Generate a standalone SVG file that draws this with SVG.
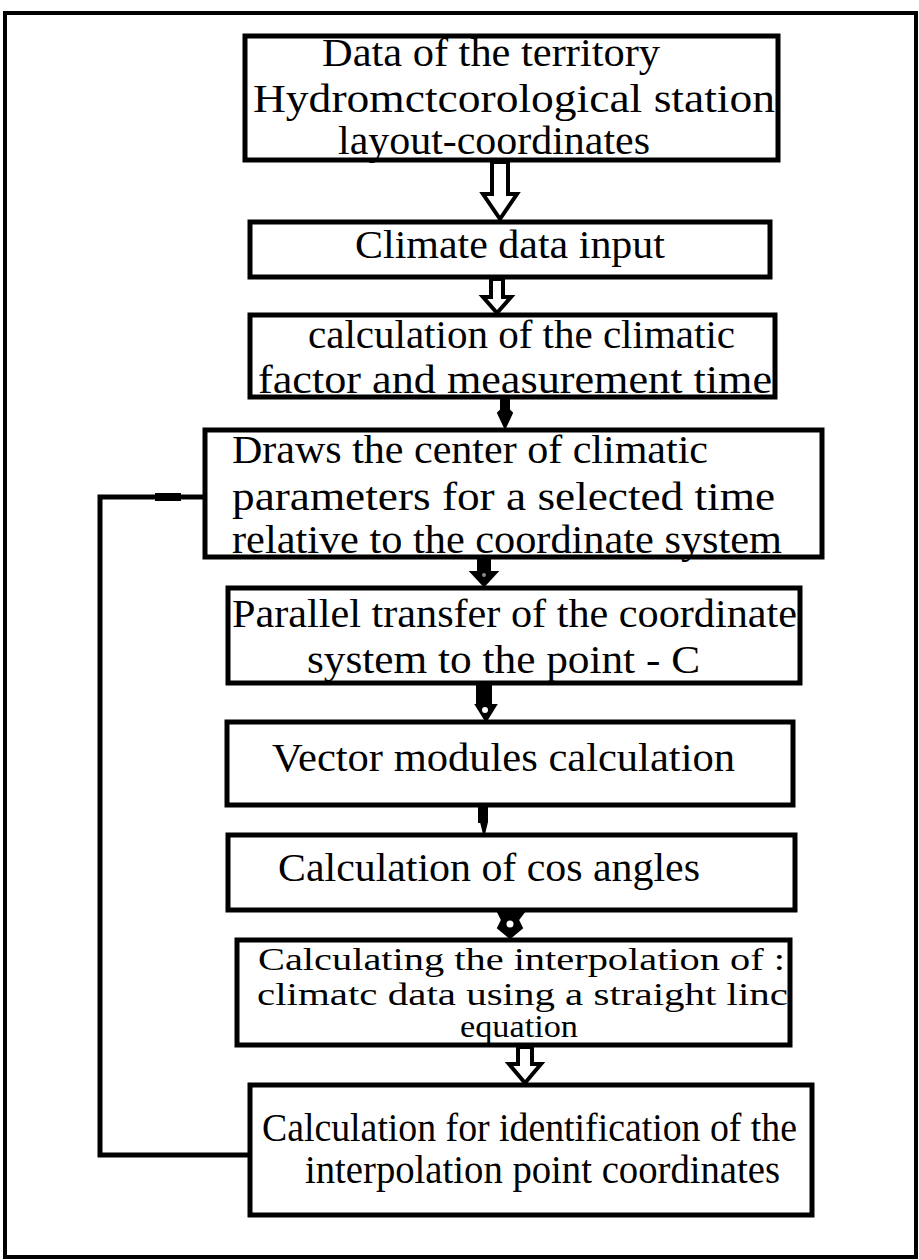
<svg xmlns="http://www.w3.org/2000/svg" width="919" height="1260" viewBox="0 0 919 1260">
<style>
.box{fill:#fff;stroke:#000;stroke-width:5}
.t{font-family:"Liberation Serif","Times New Roman",serif;font-size:40px;fill:#000}
.s{font-size:31px}
.ln{fill:none;stroke:#000;stroke-width:5}
.ah{fill:#fff;stroke:#000;stroke-width:4;stroke-linejoin:miter}
.as{fill:#000;stroke:#000;stroke-width:2}
</style>
<rect x="0" y="0" width="919" height="1260" fill="#fff"/>
<rect x="5" y="13" width="911" height="1244" fill="none" stroke="#000" stroke-width="4"/>
<g id="connectors">
<polyline class="ln" points="205,497 100,497 100,1155 250,1155"/>
<rect x="155" y="493" width="26" height="8" fill="#000"/>
<path class="ah" d="M492,162 L508,162 L508,194 L517,194 L500,219 L483,194 L492,194 Z"/>
<path class="ah" d="M491,279 L503,279 L503,297 L511,297 L497,313 L483,297 L491,297 Z"/>
<path class="as" d="M501,399 L509,399 L509,410 L512,413 L505,428 L498,413 L501,410 Z"/>
<path class="as" d="M478,559 L490,559 L490,572 L497,572 L484,586 L471,572 L478,572 Z"/>
<circle cx="484" cy="575" r="2" fill="#888"/>
<path class="as" d="M477,685 L491,685 L491,705 L496,705 L486,721 L476,705 L477,705 Z"/>
<circle cx="485" cy="710" r="3" fill="#fff"/>
<path class="as" d="M479,807 L487,807 L487,822 L484,834 L481,822 L479,822 Z"/>
<path class="as" d="M498,912 L524,912 L518,920 L522,928 L510,938 L498,928 L502,920 Z"/>
<circle cx="510" cy="924" r="3.5" fill="#fff"/>
<path class="ah" d="M518,1047 L532,1047 L532,1064 L541,1064 L525,1083 L509,1064 L518,1064 Z"/>
</g>
<g id="n1">
<rect class="box" x="245" y="36" width="533" height="124"/>
<text class="t" x="322" y="66" textLength="338" lengthAdjust="spacingAndGlyphs">Data of the territory</text>
<text class="t" x="253" y="112" textLength="522" lengthAdjust="spacingAndGlyphs">Hydromctcorological station</text>
<text class="t" x="338" y="154" textLength="312" lengthAdjust="spacingAndGlyphs">layout-coordinates</text>
</g>
<g id="n2">
<rect class="box" x="250" y="222" width="520" height="55"/>
<text class="t" x="355" y="258" textLength="310" lengthAdjust="spacingAndGlyphs">Climate data input</text>
</g>
<g id="n3">
<rect class="box" x="250" y="315" width="525" height="82"/>
<text class="t" x="308" y="348" textLength="427" lengthAdjust="spacingAndGlyphs">calculation of the climatic</text>
<text class="t" x="258" y="393" textLength="514" lengthAdjust="spacingAndGlyphs">factor and measurement time</text>
</g>
<g id="n4">
<rect class="box" x="205" y="430" width="617" height="127"/>
<text class="t" x="232" y="463" textLength="476" lengthAdjust="spacingAndGlyphs">Draws the center of climatic</text>
<text class="t" x="232" y="510" textLength="543" lengthAdjust="spacingAndGlyphs">parameters for a selected time</text>
<text class="t" x="232" y="553" textLength="550" lengthAdjust="spacingAndGlyphs">relative to the coordinate system</text>
</g>
<g id="n5">
<rect class="box" x="228" y="588" width="572" height="95"/>
<text class="t" x="232" y="627" textLength="565" lengthAdjust="spacingAndGlyphs">Parallel transfer of the coordinate</text>
<text class="t" x="307" y="673" textLength="393" lengthAdjust="spacingAndGlyphs">system to the point - C</text>
</g>
<g id="n6">
<rect class="box" x="227" y="722" width="566" height="83"/>
<text class="t" x="272" y="771" textLength="463" lengthAdjust="spacingAndGlyphs">Vector modules calculation</text>
</g>
<g id="n7">
<rect class="box" x="228" y="835" width="567" height="75"/>
<text class="t" x="278" y="881" textLength="422" lengthAdjust="spacingAndGlyphs">Calculation of cos angles</text>
</g>
<g id="n8">
<rect class="box" x="237" y="940" width="553" height="105"/>
<text class="t s" x="258" y="970" textLength="527" lengthAdjust="spacingAndGlyphs">Calculating the interpolation of :</text>
<text class="t s" x="257" y="1005" textLength="531" lengthAdjust="spacingAndGlyphs">climatc data using a straight linc</text>
<text class="t s" x="460" y="1037" textLength="118" lengthAdjust="spacingAndGlyphs">equation</text>
</g>
<g id="n9">
<rect class="box" x="250" y="1085" width="562" height="130"/>
<text class="t" x="262" y="1141" textLength="535" lengthAdjust="spacingAndGlyphs">Calculation for identification of the</text>
<text class="t" x="305" y="1183" textLength="475" lengthAdjust="spacingAndGlyphs">interpolation point coordinates</text>
</g>
</svg>
